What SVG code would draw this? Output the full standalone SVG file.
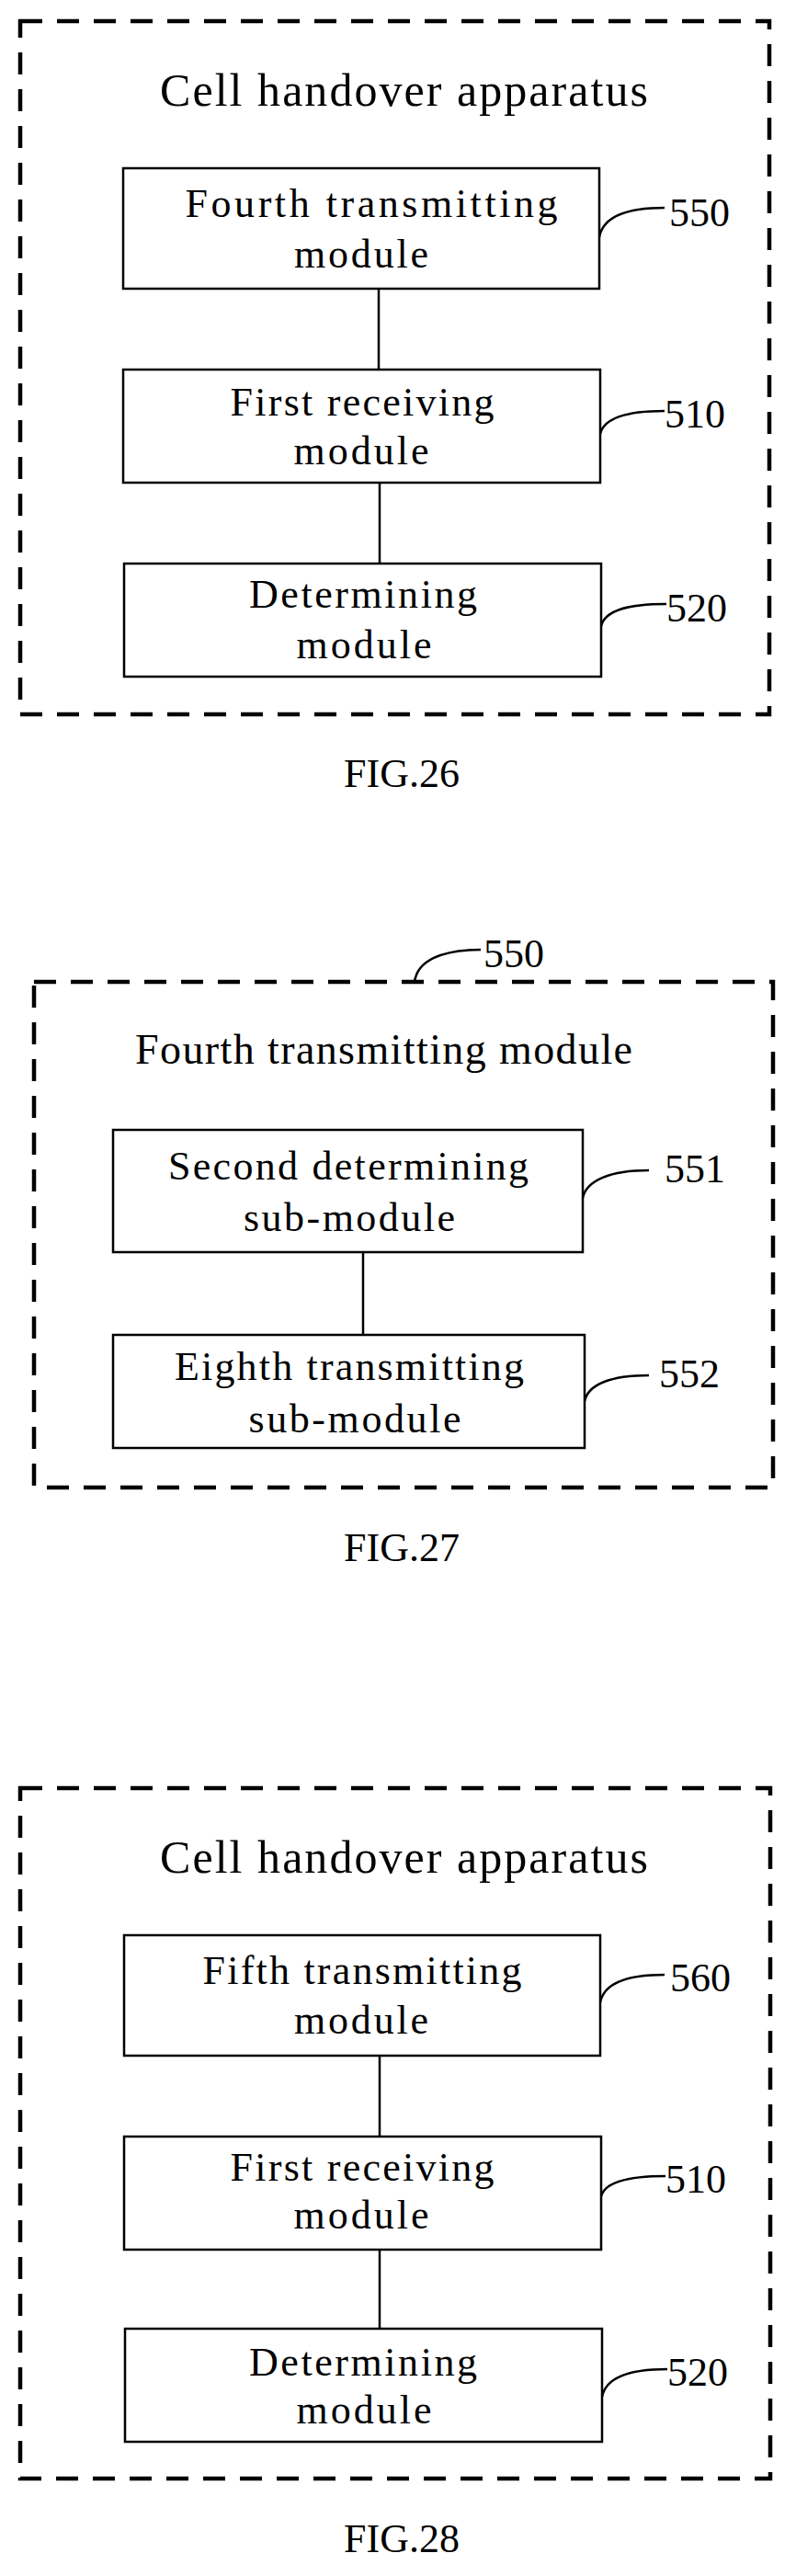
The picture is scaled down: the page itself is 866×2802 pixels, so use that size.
<svg xmlns="http://www.w3.org/2000/svg" width="866" height="2802" viewBox="0 0 866 2802">
<style>
text{font-family:"Liberation Serif","Times New Roman",serif;fill:#000}
.t{font-size:50px}
.b{font-size:44px;text-anchor:middle}
.n{font-size:44px}
.f{font-size:44px;text-anchor:middle}
.dash{fill:none;stroke:#000;stroke-width:4.5;stroke-dasharray:24 16}
.box{fill:#fff;stroke:#000;stroke-width:2.5}
.c{fill:none;stroke:#000;stroke-width:2.5}
</style>
<rect fill="#fff" width="866" height="2802"/>
<!-- FIG 26 -->
<g id="fig26">
<rect class="dash" x="22" y="23" width="815" height="754"/>
<text class="t" x="174" y="115" textLength="531">Cell handover apparatus</text>
<text class="f" x="437" y="856">FIG.26</text>
</g>
<g id="connectors26">
<line class="c" x1="412" y1="314" x2="412" y2="402"/>
<line class="c" x1="413" y1="525" x2="413" y2="613"/>
<path class="c" d="M652,258 C656,236 680,226 723,226"/>
<path class="c" d="M653,472 C657,455 680,447 723,447"/>
<path class="c" d="M654,681 C658,664 682,657 725,657"/>
</g>
<g id="n550a"><rect class="box" x="134" y="183" width="518" height="131"/>
<text class="b" x="404" y="236" textLength="405">Fourth transmitting</text><text class="b" x="393" y="291" textLength="146">module</text>
<text class="n" x="728" y="246">550</text></g>
<g id="n510a"><rect class="box" x="134" y="402" width="519" height="123"/>
<text class="b" x="394" y="452" textLength="287">First receiving</text><text class="b" x="393" y="505" textLength="147">module</text>
<text class="n" x="723" y="465">510</text></g>
<g id="n520a"><rect class="box" x="135" y="613" width="519" height="123"/>
<text class="b" x="395" y="661" textLength="248">Determining</text><text class="b" x="396" y="716" textLength="147">module</text>
<text class="n" x="725" y="676">520</text></g>
<!-- FIG 27 -->
<g id="fig27">
<rect class="dash" x="37" y="1068" width="804" height="550"/>
<text class="t" x="147" y="1157" textLength="541" style="font-size:46px">Fourth transmitting module</text>
<text class="f" x="437" y="1698">FIG.27</text>
<text class="n" x="526" y="1052">550</text>
</g>
<g id="connectors27">
<path class="c" d="M451,1068 C454,1045 480,1033 523,1033"/>
<line class="c" x1="395" y1="1362" x2="395" y2="1452"/>
<path class="c" d="M634,1303 C638,1284 664,1273 706,1273"/>
<path class="c" d="M636,1524 C640,1506 664,1496 706,1496"/>
</g>
<g id="n551"><rect class="box" x="123" y="1229" width="511" height="133"/>
<text class="b" x="379" y="1283" textLength="392">Second determining</text><text class="b" x="380" y="1339" textLength="230">sub-module</text>
<text class="n" x="723" y="1286">551</text></g>
<g id="n552"><rect class="box" x="123" y="1452" width="513" height="123"/>
<text class="b" x="380" y="1501" textLength="380">Eighth transmitting</text><text class="b" x="386" y="1558" textLength="231">sub-module</text>
<text class="n" x="717" y="1509">552</text></g>
<!-- FIG 28 -->
<g id="fig28">
<rect class="dash" x="22" y="1945" width="816" height="751"/>
<text class="t" x="174" y="2037" textLength="531">Cell handover apparatus</text>
<text class="f" x="437" y="2776">FIG.28</text>
</g>
<g id="connectors28">
<line class="c" x1="413" y1="2236" x2="413" y2="2324"/>
<line class="c" x1="413" y1="2447" x2="413" y2="2533"/>
<path class="c" d="M653,2178 C657,2158 680,2148 723,2148"/>
<path class="c" d="M654,2389 C658,2374 682,2367 724,2367"/>
<path class="c" d="M655,2607 C659,2587 683,2577 726,2577"/>
</g>
<g id="n560"><rect class="box" x="135" y="2105" width="518" height="131"/>
<text class="b" x="394" y="2158" textLength="347">Fifth transmitting</text><text class="b" x="393" y="2212" textLength="146">module</text>
<text class="n" x="729" y="2166">560</text></g>
<g id="n510b"><rect class="box" x="135" y="2324" width="519" height="123"/>
<text class="b" x="394" y="2372" textLength="287">First receiving</text><text class="b" x="393" y="2424" textLength="147">module</text>
<text class="n" x="724" y="2385">510</text></g>
<g id="n520b"><rect class="box" x="136" y="2533" width="519" height="123"/>
<text class="b" x="395" y="2584" textLength="248">Determining</text><text class="b" x="396" y="2636" textLength="147">module</text>
<text class="n" x="726" y="2595">520</text></g>
</svg>
